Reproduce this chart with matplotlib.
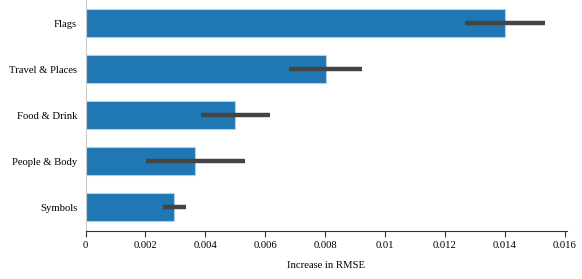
import matplotlib
matplotlib.use("Agg")
from matplotlib import pyplot as plt

plt.rcParams['font.family'] = ['Liberation Serif', 'DejaVu Serif']

categories = ["Symbols", "People & Body", "Food & Drink", "Travel & Places", "Flags"]
rmse_increase = [0.00297, 0.00366, 0.00500, 0.00802, 0.01400]
err_low = [0.00260, 0.00201, 0.00387, 0.00681, 0.01268]
err_high = [0.00336, 0.00534, 0.00617, 0.00923, 0.01533]
xticks = [0, 0.002, 0.004, 0.006, 0.008, 0.01, 0.012, 0.014, 0.016]
xticklabels = ["0", "0.002", "0.004", "0.006", "0.008", "0.01", "0.012", "0.014", "0.016"]

fig = plt.figure(figsize=(5.82, 2.79), dpi=100)
ax = fig.add_axes([85.5 / 582, 1 - 231 / 279, (567 - 85.5) / 582, 231 / 279])

pos = list(range(len(categories)))
ax.barh(pos, rmse_increase, height=0.59, color="#1f77b4", edgecolor="#aed0ea", linewidth=0.8)
for i in pos:
    ax.plot([err_low[i], err_high[i]], [i, i], color="#444444", linewidth=3.2, solid_capstyle="butt")

ax.set_xlim(0, 0.01608)
ax.set_ylim(-0.52, 4.5)
ax.set_yticks(pos)
ax.set_yticklabels(categories, fontsize=7.7)
ax.set_xticks(xticks)
ax.set_xticklabels(xticklabels, fontsize=7.7)
ax.tick_params(axis="y", length=0, pad=6)
ax.tick_params(axis="x", length=4, width=0.8, color="#333333", pad=3)
ax.set_xlabel("Increase in RMSE", fontsize=7.7, labelpad=8)

ax.spines["top"].set_visible(False)
ax.spines["right"].set_visible(False)
ax.spines["left"].set_color("#cccccc")
ax.spines["bottom"].set_color("#333333")

fig.savefig("out.png", dpi=100)
